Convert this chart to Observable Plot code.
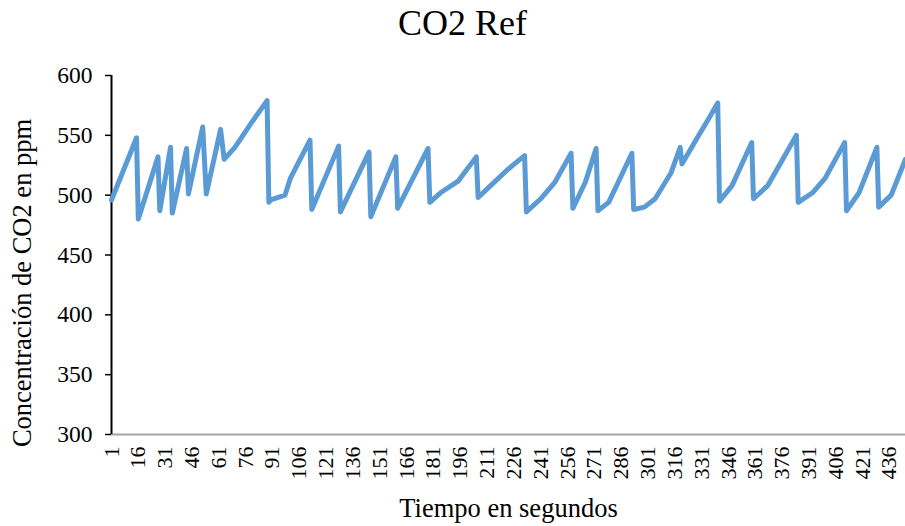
<!DOCTYPE html>
<html>
<head>
<meta charset="utf-8">
<script src="https://cdn.jsdelivr.net/npm/d3@7"></script>
<script src="https://cdn.jsdelivr.net/npm/@observablehq/plot@0.6"></script>
<style>
  html, body { margin: 0; padding: 0; background: #fff; }
  #title { font-family: "Liberation Serif", serif; font-size: 36px; text-align: center; height: 50px; line-height: 46px; padding-left: 20px; color: #000; }
  #chart svg { display: block; }
</style>
</head>
<body>
<div id="title">CO2 Ref</div>
<div id="chart"></div>
<script>
// Key readings of the CO2 series (time in seconds, concentration in ppm)
const seconds = [1,15,16,27,28,34,35,43,44,52,54,62,64,70,79,88,89,90,98,101,112,113,128,129,145,146,160,161,178,179,185,195,205,206,213,223,232,233,241,249,258,259,266,272,273,279,286,292,293,299,305,314,319,320,327,335,340,341,348,359,360,368,384,385,393,400,411,412,419,429,430,437,445];
const ppm = [496,548,480,532,487,540,485,539,501,557,501,555,530,540,560,579,494,496,500,514,546,488,541,486,536,482,532,489,539,494,502,512,532,498,508,522,533,486,497,511,535,489,511,539,487,494,516,535,488,490,497,519,540,526,544,564,577,495,508,544,497,508,550,494,502,514,544,487,502,540,490,500,530];
const xTickLabels = [1,16,31,46,61,76,91,106,121,136,151,166,181,196,211,226,241,256,271,286,301,316,331,346,361,376,391,406,421,436];
const yTickLabels = [300,350,400,450,500,550,600];
const xTitle = "Tiempo en segundos";
const yTitle = "Concentración de CO2 en ppm";

const data = seconds.map((t, i) => ({t, v: ppm[i]}));

const chart = Plot.plot({
  width: 905,
  height: 476,
  marginTop: 25,
  marginBottom: 92,
  marginLeft: 111,
  marginRight: 0,
  style: {fontFamily: "Liberation Serif, serif", fontSize: "22px", color: "#000", background: "#fff", overflow: "visible"},
  x: {type: "linear", domain: [1, 445]},
  y: {domain: [300, 600]},
  marks: [
    Plot.ruleY([300], {stroke: "#a6a6a6", strokeWidth: 2}),
    Plot.axisY({ticks: yTickLabels, tickSize: 6, tickPadding: 13, label: null, fontSize: 23.5, stroke: "#000", strokeWidth: 1.5, tickFormat: d => String(d)}),
    Plot.ruleX([1], {y1: 300, y2: 600, stroke: "#000", strokeWidth: 2}),
    Plot.axisX({ticks: xTickLabels, tickSize: 0, tickRotate: -90, tickPadding: 12, label: null, fontSize: 22, tickFormat: d => String(d)}),
    Plot.line(data, {x: "t", y: "v", stroke: "#5b9bd5", strokeWidth: 5, strokeLinejoin: "round", strokeLinecap: "round"}),
    Plot.text([xTitle], {frameAnchor: "bottom", text: d => d, dy: 74, fontSize: 26.5, lineAnchor: "middle", textAnchor: "middle"}),
    Plot.text([yTitle], {frameAnchor: "left", text: d => d, dx: -89, dy: 28, rotate: -90, fontSize: 26.5, lineAnchor: "middle", textAnchor: "middle"})
  ]
});
document.getElementById("chart").appendChild(chart);
</script>
</body>
</html>
